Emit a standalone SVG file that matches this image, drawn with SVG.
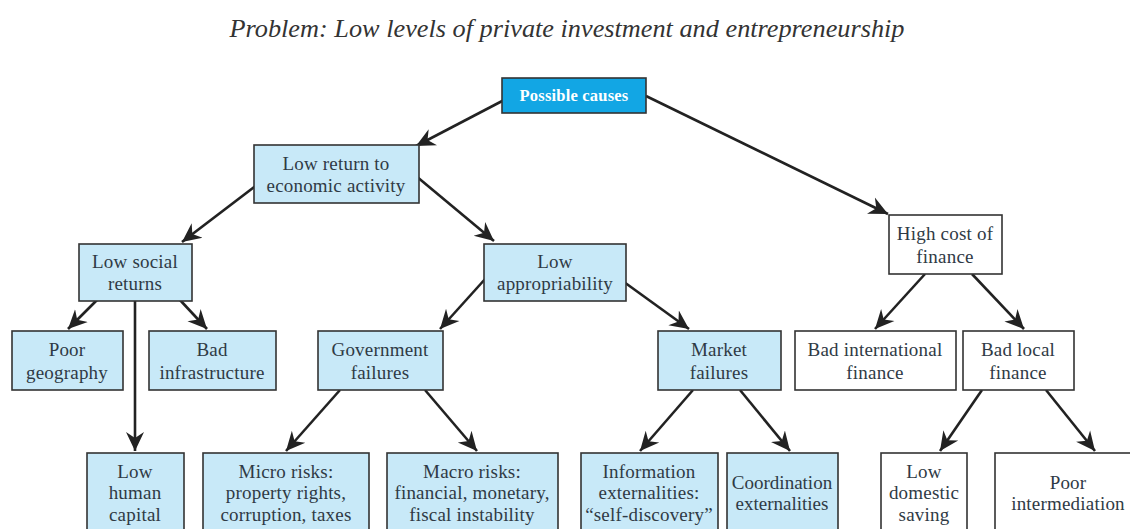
<svg xmlns="http://www.w3.org/2000/svg" width="1130" height="529" viewBox="0 0 1130 529">
<style>
.box{fill:#c8e9f8;stroke:#333;stroke-width:1.6}
.wbox{fill:#fff;stroke:#333;stroke-width:1.6}
.top{fill:#12a6e4;stroke:#333;stroke-width:1.6}
text{font-family:"Liberation Serif","DejaVu Serif",serif;font-size:19px;letter-spacing:0.2px;fill:#2f3a45;text-anchor:middle}
.tt{font-weight:bold;fill:#fff;font-size:16.5px;letter-spacing:0.2px}
.title{font-style:italic;font-size:25.5px;fill:#333;letter-spacing:0}
.c line{stroke:#222;stroke-width:2.6;marker-end:url(#ah)}
</style>
<defs>
<marker id="ah" markerUnits="userSpaceOnUse" markerWidth="22" markerHeight="20" refX="19" refY="10" orient="auto">
<path d="M0,1 L19,10 L0,19 L6,10 z" fill="#222"/>
</marker>
</defs>
<rect width="1130" height="529" fill="#fff"/>
<text class="title" x="567" y="37" textLength="675" lengthAdjust="spacingAndGlyphs">Problem: Low levels of private investment and entrepreneurship</text>
<g class="c" id="connectors">
<line x1="506" y1="99" x2="416" y2="146"/>
<line x1="646" y1="96" x2="888" y2="214"/>
<line x1="262" y1="181" x2="182" y2="242"/>
<line x1="416" y1="176" x2="494" y2="241"/>
<line x1="97" y1="300" x2="68" y2="329"/>
<line x1="180" y1="300" x2="207" y2="329"/>
<line x1="135" y1="301" x2="135" y2="451"/>
<line x1="486" y1="278" x2="440" y2="329"/>
<line x1="624" y1="282" x2="689" y2="329"/>
<line x1="340" y1="390" x2="286" y2="451"/>
<line x1="425" y1="390" x2="477" y2="451"/>
<line x1="693" y1="390" x2="640" y2="451"/>
<line x1="740" y1="390" x2="790" y2="451"/>
<line x1="925" y1="274" x2="875" y2="329"/>
<line x1="972" y1="274" x2="1024" y2="329"/>
<line x1="982" y1="390" x2="940" y2="451"/>
<line x1="1046" y1="390" x2="1095" y2="451"/>
</g>
<g id="possible-causes"><rect class="top" x="502" y="78" width="144" height="35"/><text class="tt" x="574" y="101">Possible causes</text></g>
<g id="low-return"><rect class="box" x="254" y="145" width="165" height="58"/><text x="336" y="170">Low return to</text><text x="336" y="192">economic activity</text></g>
<g id="high-cost"><rect class="wbox" x="889" y="215" width="113" height="59"/><text x="945" y="240">High cost of</text><text x="945" y="263">finance</text></g>
<g id="low-social"><rect class="box" x="79" y="244" width="113" height="57"/><text x="135" y="268">Low social</text><text x="135" y="290">returns</text></g>
<g id="low-approp"><rect class="box" x="484" y="244" width="142" height="57"/><text x="555" y="268">Low</text><text x="555" y="290">appropriability</text></g>
<g id="poor-geo"><rect class="box" x="12" y="331" width="111" height="59"/><text x="67" y="356">Poor</text><text x="67" y="379">geography</text></g>
<g id="bad-infra"><rect class="box" x="149" y="331" width="127" height="59"/><text x="212" y="356">Bad</text><text x="212" y="379">infrastructure</text></g>
<g id="gov-fail"><rect class="box" x="318" y="331" width="125" height="59"/><text x="380" y="356">Government</text><text x="380" y="379">failures</text></g>
<g id="mkt-fail"><rect class="box" x="658" y="331" width="123" height="59"/><text x="719" y="356">Market</text><text x="719" y="379">failures</text></g>
<g id="bad-intl"><rect class="wbox" x="795" y="331" width="161" height="59"/><text x="875" y="356">Bad international</text><text x="875" y="379">finance</text></g>
<g id="bad-local"><rect class="wbox" x="963" y="331" width="111" height="59"/><text x="1018" y="356">Bad local</text><text x="1018" y="379">finance</text></g>
<g id="low-human"><rect class="box" x="87" y="453" width="97" height="90"/><text x="135" y="478">Low</text><text x="135" y="499">human</text><text x="135" y="521">capital</text></g>
<g id="micro"><rect class="box" x="203" y="453" width="166" height="90"/><text x="286" y="478">Micro risks:</text><text x="286" y="499">property rights,</text><text x="286" y="521">corruption, taxes</text></g>
<g id="macro"><rect class="box" x="387" y="453" width="171" height="90"/><text x="472" y="478">Macro risks:</text><text x="472" y="499">financial, monetary,</text><text x="472" y="521">fiscal instability</text></g>
<g id="info"><rect class="box" x="581" y="453" width="137" height="90"/><text x="649" y="478">Information</text><text x="649" y="499">externalities:</text><text x="649" y="521">“self-discovery”</text></g>
<g id="coord"><rect class="box" x="727" y="453" width="111" height="90"/><text x="782" y="489" style="letter-spacing:0">Coordination</text><text x="782" y="510" style="letter-spacing:0">externalities</text></g>
<g id="low-dom"><rect class="wbox" x="881" y="453" width="86" height="90"/><text x="924" y="478">Low</text><text x="924" y="499">domestic</text><text x="924" y="521">saving</text></g>
<g id="poor-inter"><rect class="wbox" x="995" y="453" width="150" height="90"/><text x="1068" y="489">Poor</text><text x="1068" y="510">intermediation</text></g>
</svg>
